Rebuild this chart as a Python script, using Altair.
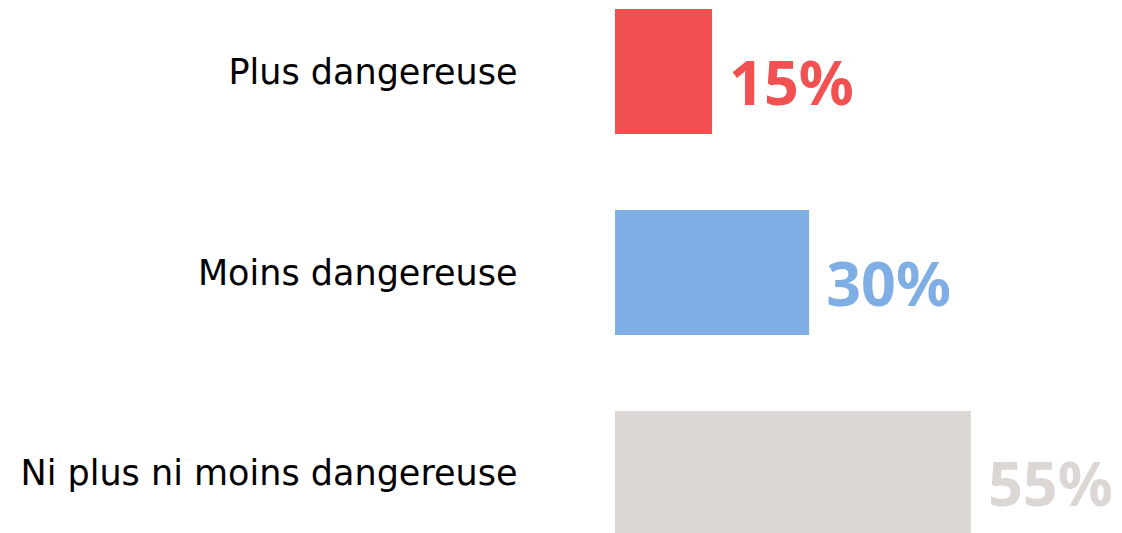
import altair as alt
import pandas as pd

categories = ["Plus dangereuse", "Moins dangereuse", "Ni plus ni moins dangereuse"]
values = [15, 30, 55]
colors = ["#F25152", "#7FAEE5", "#DCD7D5"]

df = pd.DataFrame({"cat": categories, "value": values, "color": colors})

y = alt.Y("cat:N", sort=categories, title=None,
          scale=alt.Scale(paddingInner=0.378, paddingOuter=0),
          axis=alt.Axis(domain=False, ticks=False, grid=False, labelPadding=98,
                        labelFont="DejaVu Sans", labelFontSize=35,
                        labelFontWeight="normal", labelColor="#000000",
                        labelBaseline="alphabetic", labelOffset=12,
                        labelLimit=700, labelAlign="right"))
x = alt.X("value:Q", scale=alt.Scale(domain=[0, 76.96]), axis=None)

base = alt.Chart(df).encode(y=y, x=x)

bars = base.mark_bar().encode(color=alt.Color("color:N", scale=None))
labels = base.mark_text(align="left", baseline="alphabetic", dx=17, dy=33,
                        font="Noto Sans", fontWeight="bold", fontSize=61).encode(
    text=alt.Text("lab:N"), color=alt.Color("color:N", scale=None)
).transform_calculate(lab="datum.value + '%'")

chart = alt.layer(bars, labels).properties(
    width=498, height=527,
    autosize=alt.AutoSizeParams(type="none"),
    padding={"left": 607, "top": 1, "right": 1, "bottom": 0},
    background="white",
).configure_view(stroke=None)

chart.save("out.html", embed_options={"renderer": "svg", "actions": False})
